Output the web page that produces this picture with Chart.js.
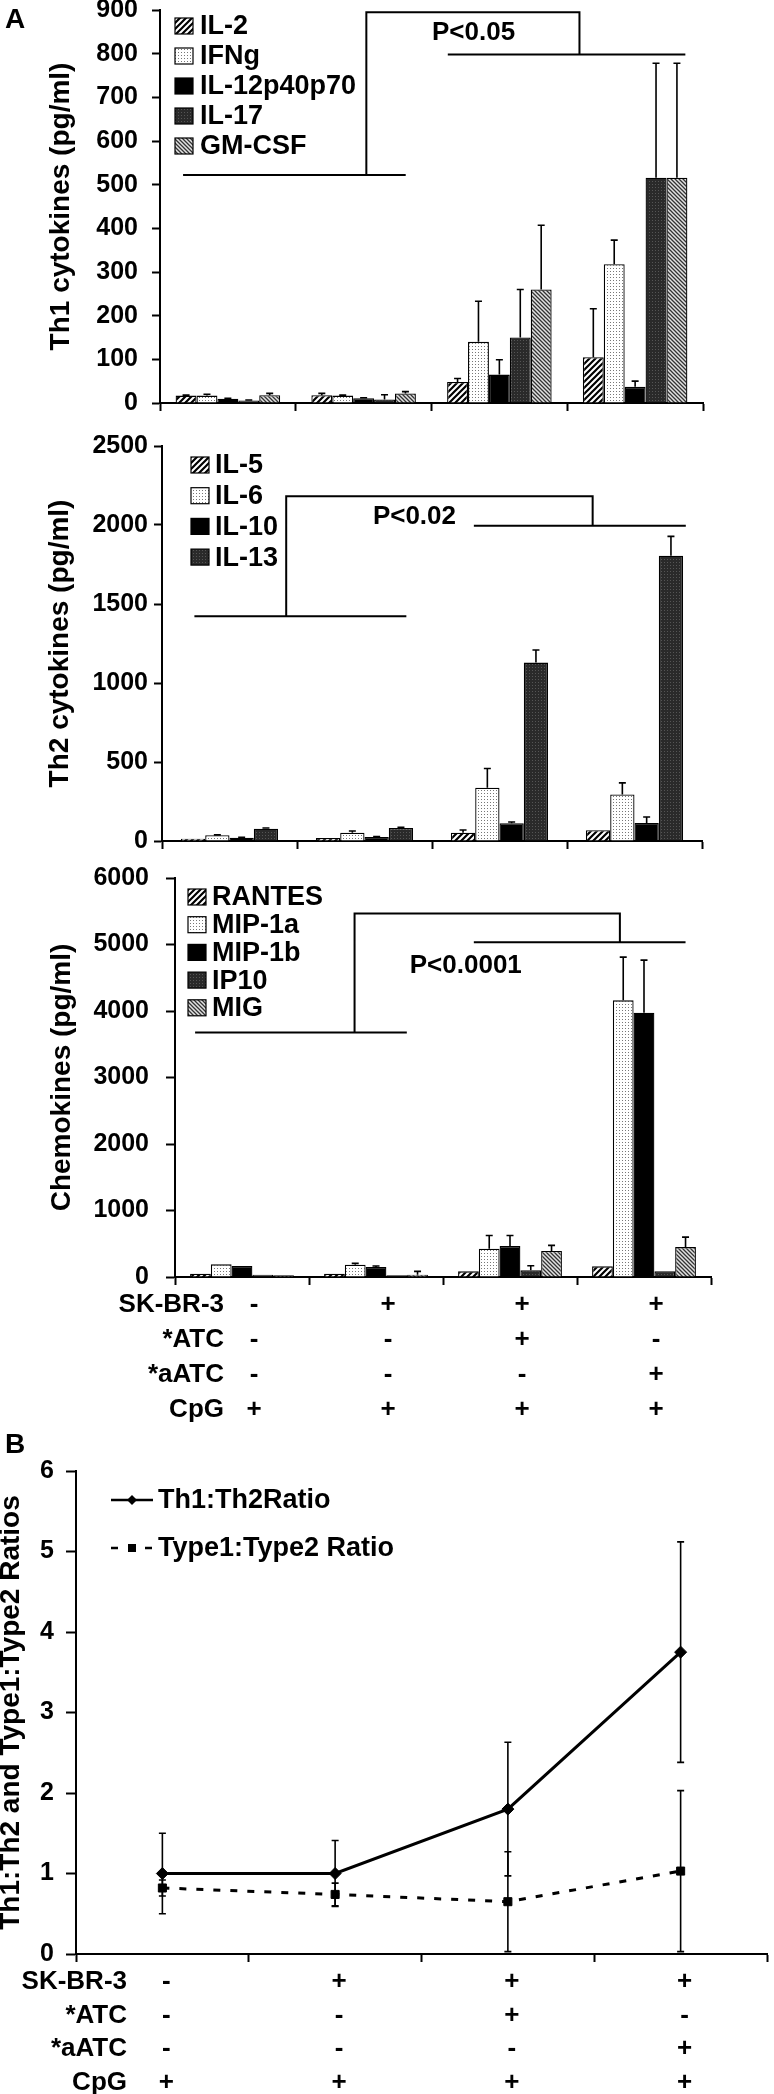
<!DOCTYPE html>
<html>
<head>
<meta charset="utf-8">
<script src="https://cdn.jsdelivr.net/npm/chart.js@4.4.1/dist/chart.umd.min.js"></script>
<style>
  html, body { margin: 0; padding: 0; background: #fff; }
  body { width: 774px; height: 2094px; position: relative; overflow: hidden; }
  canvas { position: absolute; left: 0; }
</style>
</head>
<body>
<canvas id="th1" width="774" height="420" style="top:0px;width:774px;height:420px"></canvas>
<canvas id="th2" width="774" height="430" style="top:420px;width:774px;height:430px"></canvas>
<canvas id="chemo" width="774" height="580" style="top:850px;width:774px;height:580px"></canvas>
<canvas id="ratio" width="774" height="664" style="top:1430px;width:774px;height:664px"></canvas>
<script>
var FONT = "'Liberation Sans', Arial, Helvetica, sans-serif";

// conditions (x categories) and the +/- table under the charts
var conditions = ['CpG', 'SK-BR-3 + CpG', 'SK-BR-3 + *ATC + CpG', 'SK-BR-3 + *aATC + CpG'];
var rowNames = ['SK-BR-3', '*ATC', '*aATC', 'CpG'];
var skbr3Row = ['-', '+', '+', '+'];
var atcRow = ['-', '-', '+', '-'];
var aatcRow = ['-', '-', '-', '+'];
var cpgRow = ['+', '+', '+', '+'];

// Th1 cytokines (pg/ml)
var il2 = [17, 18, 48, 105],     il2Err = [1, 4, 8, 111];
var ifng = [17, 17, 140, 318],   ifngErr = [3, 1, 93, 55];
var il12 = [10, 11, 65, 37],     il12Err = [1, 1, 34, 13];
var il17 = [6, 8, 150, 516],     il17Err = [1, 11, 110, 262];
var gmcsf = [18, 22, 260, 516],  gmcsfErr = [4, 4, 147, 262];

// Th2 cytokines (pg/ml)
var il5 = [15, 19, 53, 68],      il5Err = [0, 0, 17, 0];
var il6 = [36, 53, 337, 294],    il6Err = [3, 10, 122, 74];
var il10 = [21, 25, 112, 114],   il10Err = [2, 3, 8, 38];
var il13 = [78, 82, 1129, 1806], il13Err = [4, 5, 80, 122];

// Chemokines (pg/ml)
var rantes = [50, 50, 85, 160],     rantesErr = [0, 0, 0, 0];
var mip1a = [190, 185, 425, 4160],  mip1aErr = [0, 20, 200, 650];
var mip1b = [165, 150, 465, 3975],  mip1bErr = [0, 15, 160, 790];
var ip10 = [35, 25, 100, 85],       ip10Err = [0, 0, 70, 0];
var mig = [25, 35, 390, 450],       migErr = [0, 50, 85, 150];

// ratios (panel B)
var th1th2 = [1.0, 1.0, 1.8, 3.75],     th1th2Err = [0.5, 0.41, 0.83, 1.37];
var type1type2 = [0.82, 0.74, 0.65, 1.03], type1type2Err = [0.1, 0.14, 0.62, 1.0];

function makePattern(kind) {
  var t = document.createElement('canvas');
  var c = t.getContext('2d');
  if (kind === 'hatch') {
    t.width = t.height = 6;
    c.fillStyle = '#fff'; c.fillRect(0, 0, 6, 6);
    c.strokeStyle = '#000'; c.lineWidth = 2.2;
    c.beginPath();
    c.moveTo(-1, 7); c.lineTo(7, -1);
    c.moveTo(-1, 1); c.lineTo(1, -1);
    c.moveTo(5, 7); c.lineTo(7, 5);
    c.stroke();
  } else if (kind === 'dots') {
    t.width = t.height = 3;
    c.fillStyle = '#fff'; c.fillRect(0, 0, 3, 3);
    c.fillStyle = '#777'; c.fillRect(1, 1, 1, 1);
  } else if (kind === 'dark') {
    t.width = t.height = 3;
    c.fillStyle = '#2a2a2a'; c.fillRect(0, 0, 3, 3);
    c.fillStyle = '#555'; c.fillRect(1, 1, 1, 1);
  } else if (kind === 'back') {
    t.width = t.height = 4;
    c.fillStyle = '#e2e2e2'; c.fillRect(0, 0, 4, 4);
    c.strokeStyle = '#333'; c.lineWidth = 1.3;
    c.beginPath();
    c.moveTo(-1, -1); c.lineTo(5, 5);
    c.moveTo(3, -1); c.lineTo(5, 1);
    c.moveTo(-1, 3); c.lineTo(1, 5);
    c.stroke();
  }
  return c.createPattern(t, 'repeat');
}
var fills = {
  hatch: makePattern('hatch'),
  dots: makePattern('dots'),
  black: '#000',
  dark: makePattern('dark'),
  back: makePattern('back')
};

// error bars: bars get an upward whisker, lines get both ways
var errorBars = {
  id: 'errorBars',
  afterDatasetsDraw: function(chart) {
    var ctx = chart.ctx, ys = chart.scales.y;
    var isLine = chart.config.type === 'line';
    ctx.save();
    ctx.strokeStyle = '#000';
    ctx.lineWidth = 1.6;
    chart.data.datasets.forEach(function(ds, i) {
      if (!ds.errors) return;
      var meta = chart.getDatasetMeta(i);
      meta.data.forEach(function(el, j) {
        var e = ds.errors[j];
        if (!e) return;
        var v = ds.data[j];
        var top = ys.getPixelForValue(v + e);
        var bot = isLine ? ys.getPixelForValue(Math.max(v - e, 0)) : el.y;
        ctx.beginPath();
        ctx.moveTo(el.x, bot); ctx.lineTo(el.x, top);
        ctx.moveTo(el.x - 3.5, top); ctx.lineTo(el.x + 3.5, top);
        if (isLine) { ctx.moveTo(el.x - 3.5, bot); ctx.lineTo(el.x + 3.5, bot); }
        ctx.stroke();
      });
    });
    ctx.restore();
  }
};

// titles, legend, significance bracket and the table row names
var decor = {
  id: 'decor',
  afterDraw: function(chart, args, o) {
    var ctx = chart.ctx, xs = chart.scales.x, ys = chart.scales.y, area = chart.chartArea;
    ctx.save();
    ctx.fillStyle = '#000';
    ctx.strokeStyle = '#000';
    if (o.letter) {
      ctx.font = 'bold 28px ' + FONT;
      ctx.textAlign = 'left'; ctx.textBaseline = 'alphabetic';
      ctx.fillText(o.letter[0], o.letter[1], o.letter[2]);
    }
    if (o.title) {
      ctx.save();
      ctx.translate(o.titleX, (area.top + area.bottom) / 2);
      ctx.rotate(-Math.PI / 2);
      ctx.font = 'bold 28px ' + FONT;
      ctx.textAlign = 'center'; ctx.textBaseline = 'middle';
      ctx.fillText(o.title, 0, 0);
      ctx.restore();
    }
    var b = o.bracket;
    if (b) {
      var X = function(u) { return xs.getPixelForValue(u); };
      var Y = function(v) { return ys.getPixelForValue(v); };
      ctx.lineWidth = 2;
      ctx.beginPath();
      ctx.moveTo(X(b.left[0]), Y(b.left[2])); ctx.lineTo(X(b.left[1]), Y(b.left[2]));
      ctx.moveTo(X(b.stem), Y(b.left[2])); ctx.lineTo(X(b.stem), Y(b.top[1]));
      ctx.lineTo(X(b.top[0]), Y(b.top[1])); ctx.lineTo(X(b.top[0]), Y(b.right[2]));
      ctx.moveTo(X(b.right[0]), Y(b.right[2])); ctx.lineTo(X(b.right[1]), Y(b.right[2]));
      ctx.stroke();
      ctx.font = 'bold 26px ' + FONT;
      ctx.textAlign = 'center'; ctx.textBaseline = 'middle';
      ctx.fillText(b.label[0], X(b.label[1]), Y(b.label[2]));
    }
    var lg = o.legend;
    if (lg) {
      ctx.font = 'bold ' + lg.size + 'px ' + FONT;
      ctx.textAlign = 'left'; ctx.textBaseline = 'middle';
      chart.data.datasets.forEach(function(ds, i) {
        var cy = lg.y + i * lg.step;
        if (lg.kind === 'box') {
          ctx.fillStyle = ds.backgroundColor;
          ctx.fillRect(lg.x, cy - 8, 18, 16);
          ctx.lineWidth = 1.2;
          ctx.strokeRect(lg.x, cy - 8, 18, 16);
        } else {
          ctx.lineWidth = 2.5;
          ctx.setLineDash(ds.borderDash || []);
          ctx.beginPath(); ctx.moveTo(lg.x, cy); ctx.lineTo(lg.x + 42, cy); ctx.stroke();
          ctx.setLineDash([]);
          var mx = lg.x + 21;
          ctx.beginPath();
          if (ds.pointStyle === 'rectRot') {
            ctx.moveTo(mx, cy - 5); ctx.lineTo(mx + 5, cy); ctx.lineTo(mx, cy + 5); ctx.lineTo(mx - 5, cy);
          } else {
            ctx.rect(mx - 4, cy - 4, 8, 8);
          }
          ctx.fill();
        }
        ctx.fillStyle = '#000';
        ctx.fillText(ds.label, lg.textX, cy + 1);
      });
    }
    if (o.rows) {
      var t = xs.options.ticks;
      var lh = t.font.size * t.font.lineHeight;
      var y0 = xs.top + xs.options.grid.tickLength + t.padding;
      ctx.font = 'bold ' + t.font.size + 'px ' + FONT;
      ctx.textAlign = 'right'; ctx.textBaseline = 'middle';
      rowNames.forEach(function(name, i) {
        ctx.fillText(name, o.rowsX, y0 + lh * (i + 0.5));
      });
    }
    ctx.restore();
  }
};

function yAxis(max, step, width, pad, tick) {
  return {
    min: 0, max: max,
    border: { color: '#000', width: 2 },
    grid: { drawOnChartArea: false, color: '#000', tickColor: '#000', tickLength: tick, tickWidth: 2 },
    ticks: {
      stepSize: step, color: '#000', padding: pad,
      font: { family: FONT, size: 25, weight: 'bold', lineHeight: 0.8 },
      callback: function(v) { return String(v); }
    },
    afterFit: function(s) { s.width = width; s.paddingTop = 0; s.paddingBottom = 0; }
  };
}
function xAxis(height, table, padding, lineH, offsetX) {
  return {
    offset: true,
    border: { color: '#000', width: 2 },
    grid: { offset: true, drawOnChartArea: false, color: '#000', tickColor: '#000', tickLength: 8, tickWidth: 2 },
    ticks: {
      display: table, color: '#000', padding: padding, labelOffset: offsetX, autoSkip: false, maxRotation: 0,
      font: { family: FONT, size: 26, weight: 'bold', lineHeight: lineH / 26 },
      callback: function(v, i) { return [skbr3Row[i], atcRow[i], aatcRow[i], cpgRow[i]]; }
    },
    afterFit: function(s) { s.height = height; s.paddingLeft = 0; s.paddingRight = 0; }
  };
}
function barSet(label, data, errors, fill) {
  return { label: label, data: data, errors: errors, backgroundColor: fill, borderColor: '#000', borderWidth: 1.3 };
}
function baseOptions(pad, xs, ys, decorOpts, catPct) {
  return {
    responsive: false, animation: false, devicePixelRatio: 1,
    layout: { padding: pad },
    datasets: { bar: { categoryPercentage: catPct, barPercentage: 1 } },
    scales: { x: xs, y: ys },
    plugins: { legend: { display: false }, tooltip: { enabled: false }, decor: decorOpts }
  };
}

new Chart(document.getElementById('th1'), {
  type: 'bar',
  data: {
    labels: conditions,
    datasets: [
      barSet('IL-2', il2, il2Err, fills.hatch),
      barSet('IFNg', ifng, ifngErr, fills.dots),
      barSet('IL-12p40p70', il12, il12Err, fills.black),
      barSet('IL-17', il17, il17Err, fills.dark),
      barSet('GM-CSF', gmcsf, gmcsfErr, fills.back)
    ]
  },
  options: baseOptions({ top: 10, left: 0, right: 71, bottom: 0 },
    xAxis(17, false, 0, 30, 0), yAxis(900, 100, 160, 14, 8),
    {
      letter: ['A', 5, 28], title: 'Th1 cytokines (pg/ml)', titleX: 61,
      legend: { kind: 'box', x: 175, textX: 200, y: 26, step: 30, size: 27 },
      bracket: { left: [-0.33, 1.31, 522], stem: 1.02, top: [2.59, 895], right: [1.62, 3.37, 798], label: ['P<0.05', 1.81, 847] }
    }, 0.77),
  plugins: [errorBars, decor]
});

new Chart(document.getElementById('th2'), {
  type: 'bar',
  data: {
    labels: conditions,
    datasets: [
      barSet('IL-5', il5, il5Err, fills.hatch),
      barSet('IL-6', il6, il6Err, fills.dots),
      barSet('IL-10', il10, il10Err, fills.black),
      barSet('IL-13', il13, il13Err, fills.dark)
    ]
  },
  options: baseOptions({ top: 26, left: 0, right: 72, bottom: 0 },
    xAxis(9, false, 0, 30, 0), yAxis(2500, 500, 162, 6, 8),
    {
      title: 'Th2 cytokines (pg/ml)', titleX: 60,
      legend: { kind: 'box', x: 191, textX: 215, y: 45, step: 30.7, size: 27 },
      bracket: { left: [-0.26, 1.31, 1422], stem: 0.42, top: [2.69, 2182], right: [1.81, 3.38, 1996], label: ['P<0.02', 1.37, 2051] }
    }, 0.72),
  plugins: [errorBars, decor]
});

new Chart(document.getElementById('chemo'), {
  type: 'bar',
  data: {
    labels: conditions,
    datasets: [
      barSet('RANTES', rantes, rantesErr, fills.hatch),
      barSet('MIP-1a', mip1a, mip1aErr, fills.dots),
      barSet('MIP-1b', mip1b, mip1bErr, fills.black),
      barSet('IP10', ip10, ip10Err, fills.dark),
      barSet('MIG', mig, migErr, fills.back)
    ]
  },
  options: baseOptions({ top: 28, left: 0, right: 63, bottom: 0 },
    xAxis(153, true, 2.5, 35, 12), yAxis(6000, 1000, 175, 17, 9),
    {
      title: 'Chemokines (pg/ml)', titleX: 62,
      legend: { kind: 'box', x: 188, textX: 212, y: 47, step: 27.7, size: 27 },
      bracket: { left: [-0.35, 1.23, 3675], stem: 0.84, top: [2.82, 5465], right: [1.73, 3.31, 5035], label: ['P<0.0001', 1.67, 4675] },
      rows: true, rowsX: 224
    }, 0.775),
  plugins: [errorBars, decor]
});

new Chart(document.getElementById('ratio'), {
  type: 'line',
  data: {
    labels: conditions,
    datasets: [
      { label: 'Th1:Th2Ratio', data: th1th2, errors: th1th2Err, borderColor: '#000', borderWidth: 3,
        pointStyle: 'rectRot', pointRadius: 6, pointBackgroundColor: '#000', pointBorderColor: '#000', pointBorderWidth: 1,
        tension: 0, fill: false },
      { label: 'Type1:Type2 Ratio', data: type1type2, errors: type1type2Err, borderColor: '#000', borderWidth: 3,
        borderDash: [7, 10], pointStyle: 'rect', pointRadius: 5.7, pointBackgroundColor: '#000', pointBorderColor: '#000',
        pointBorderWidth: 1, tension: 0, fill: false }
    ]
  },
  options: baseOptions({ top: 41, left: 0, right: 3, bottom: 0 },
    xAxis(140, true, 3.3, 33.5, 4), yAxis(6, 1, 76, 12, 10),
    {
      letter: ['B', 5, 23], title: 'Th1:Th2 and Type1:Type2 Ratios', titleX: 11,
      legend: { kind: 'line', x: 111, textX: 158, y: 70, step: 48, size: 27 },
      rows: true, rowsX: 127
    }, 0.8),
  plugins: [errorBars, decor]
});
</script>
</body>
</html>
